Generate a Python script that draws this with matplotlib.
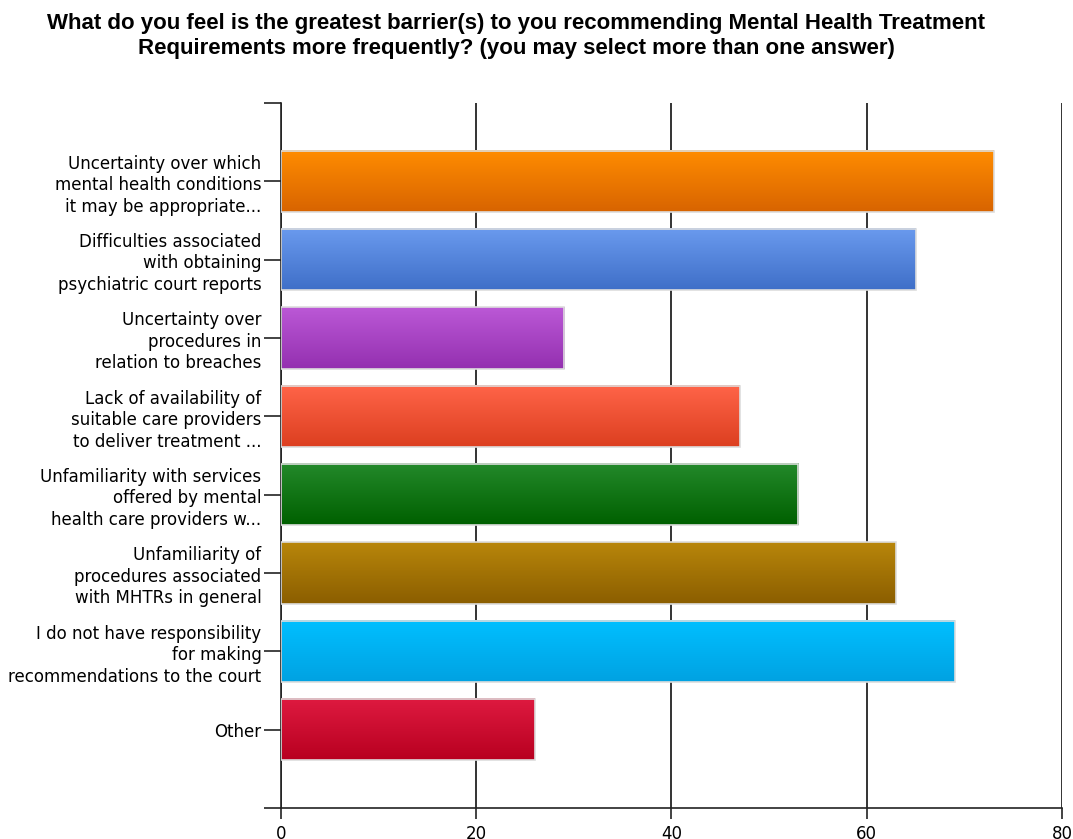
import numpy as np
import matplotlib.pyplot as plt
from matplotlib.colors import LinearSegmentedColormap

# answer options and response counts
labels = [
    "Uncertainty over which\nmental health conditions\nit may be appropriate...",
    "Difficulties associated\nwith obtaining\npsychiatric court reports",
    "Uncertainty over\nprocedures in\nrelation to breaches",
    "Lack of availability of\nsuitable care providers\nto deliver treatment ...",
    "Unfamiliarity with services\noffered by mental\nhealth care providers w...",
    "Unfamiliarity of\nprocedures associated\nwith MHTRs in general",
    "I do not have responsibility\nfor making\nrecommendations to the court",
    "Other",
]
counts = [73, 65, 29, 47, 53, 63, 69, 26]

# top / bottom colour of each bar's gradient
top_colors = ["#ff8c00", "#6a9aee", "#bb58d6", "#ff6448", "#23892a", "#b8860b", "#00bfff", "#de1a40"]
bottom_colors = ["#d86400", "#3f6fc8", "#9430b0", "#dc3f20", "#006000", "#8b5e00", "#00a2e2", "#b80020"]

title = ("What do you feel is the greatest barrier(s) to you recommending Mental Health Treatment\n"
         "Requirements more frequently? (you may select more than one answer)")

fig = plt.figure(figsize=(10.73, 8.39), dpi=100)
ax = fig.add_axes([0.2619, 0.0369, 0.7278, 0.8403])

y = np.arange(len(counts))
bars = ax.barh(y, counts, height=0.78, color="none", edgecolor="#dddddd", linewidth=1.2, zorder=3)

# vertical gradient inside each bar
grad = np.linspace(0, 1, 100).reshape(-1, 1)
for b, c1, c2 in zip(bars, top_colors, bottom_colors):
    cmap = LinearSegmentedColormap.from_list("g", [c1, c2])
    x0, y0 = b.get_x(), b.get_y()
    w, h = b.get_width(), b.get_height()
    ax.imshow(grad, cmap=cmap, aspect="auto", extent=(x0, x0 + w, y0 + h, y0),
              origin="upper", zorder=2, interpolation="bilinear")

ax.set_xlim(0, 80)
ax.set_ylim(8, -1)
ax.set_xticks([0, 20, 40, 60, 80])
ax.set_yticks(list(y))
ax.set_yticklabels(labels, fontsize=12, linespacing=1.25)
ax.set_yticks([-1, 8], minor=True)
ax.tick_params(axis="y", which="both", length=12, width=1.2, color="#222222", pad=2)
ax.tick_params(axis="x", length=8, width=1.2, labelsize=12, pad=4, color="#222222")

ax.grid(axis="x", color="#111111", linewidth=1.2, zorder=1)
for s in ["top", "right"]:
    ax.spines[s].set_visible(False)
for s in ["left", "bottom"]:
    ax.spines[s].set_linewidth(1.2)
    ax.spines[s].set_color("#222222")

fig.text(0.481, 0.984, title, ha="center", va="top", fontsize=16, fontweight="bold",
         family="Liberation Sans", linespacing=1.2)

fig.savefig("out.png", dpi=100)
